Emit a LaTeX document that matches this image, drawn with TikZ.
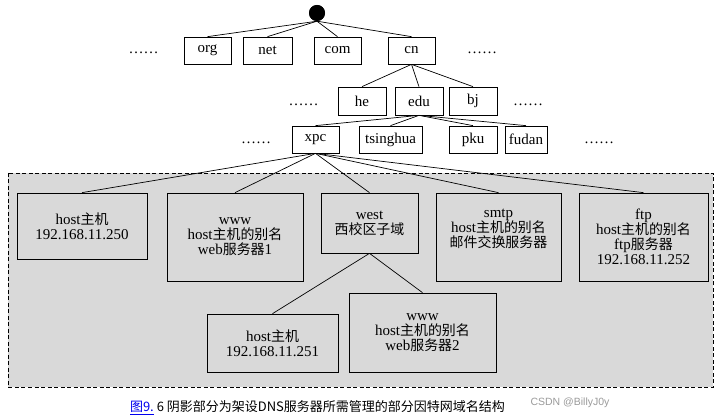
\documentclass[tikz,border=0pt]{standalone}
\usepackage{fontspec}
\setmainfont{Liberation Serif}
\newfontfamily\cjk[Scale=0.93]{Noto Sans CJK SC}
\newfontfamily\capfont{Noto Sans CJK SC}
\newfontfamily\wmfont{Liberation Sans}
\newcommand\zh[1]{{\cjk #1}}
\definecolor{shade}{HTML}{D9D9D9}
\definecolor{linkblue}{HTML}{0000EE}
\definecolor{wmgray}{HTML}{9A9A9A}
\tikzset{
  tbox/.style={draw=black, line width=0.7pt, fill=white, inner sep=0pt, minimum height=27, font=\fontsize{15}{15}\selectfont},
  gbox/.style={draw=black, line width=0.7pt, inner sep=0pt, align=center, font=\fontsize{15}{15}\selectfont},
  txt/.style={inner sep=0pt, align=center, font=\fontsize{15}{15}\selectfont},
  dots/.style={inner sep=0pt, font=\fontsize{15}{15}\selectfont},
  conn/.style={line width=0.7pt},
}
\begin{document}
\begin{tikzpicture}[x=1pt,y=-1pt]
\useasboundingbox (0,0) rectangle (723,419);
% shaded region
\draw[fill=shade, line width=0.7pt, dash pattern=on 4pt off 2.5pt] (8,173) rectangle (713,387);
% tree nodes
\node[circle, fill=black, minimum size=16, inner sep=0pt] (root) at (317,13) {};
\node[tbox, minimum width=47] (org) at (207.5,50.5) {org};
\node[tbox, minimum width=49] (net) at (267.5,50.5) {net};
\node[tbox, minimum width=47] (com) at (337.5,50.5) {com};
\node[tbox, minimum width=47] (cn) at (411.5,50.5) {cn};
\node[tbox, minimum width=48, minimum height=28] (he) at (362,101) {he};
\node[tbox, minimum width=48, minimum height=28] (edu) at (419,101) {edu};
\node[tbox, minimum width=48, minimum height=28] (bj) at (473,101) {bj};
\node[tbox, minimum width=47] (xpc) at (315.5,139.5) {xpc};
\node[tbox, minimum width=63] (tsinghua) at (390.5,139.5) {tsinghua};
\node[tbox, minimum width=48] (pku) at (473,139.5) {pku};
\node[tbox, minimum width=42] (fudan) at (526,139.5) {fudan};
% dots
\node[dots] (d1) at (143.5,53) {……};
\node[dots] (d2) at (482,53) {……};
\node[dots] (d3) at (303.5,105) {……};
\node[dots] (d4) at (528,105) {……};
\node[dots] (d5) at (256,143) {……};
\node[dots] (d6) at (599,143) {……};
% boxes in region
\node[gbox, minimum width=130, minimum height=66] (h250) at (82,226) {host\zh{主机}\\192.168.11.250};
\node[gbox, minimum width=136, minimum height=88] (www1) at (235,237) {www\\host\zh{主机的别名}\\web\zh{服务器}1};
\node[gbox, minimum width=97, minimum height=60] (west) at (369.5,223) {west\\\zh{西校区子域}};
\node[gbox, minimum width=125, minimum height=88] (smtp) at (498.5,237) {};
\node[txt] (smtpt) at ([yshift=8pt]smtp.center) {smtp\\host\zh{主机的别名}\\\zh{邮件交换服务器}};
\node[gbox, minimum width=129, minimum height=88] (ftp) at (643.5,237) {ftp\\host\zh{主机的别名}\\ftp\zh{服务器}\\192.168.11.252};
\node[gbox, minimum width=131, minimum height=58] (h251) at (272.5,343) {host\zh{主机}\\192.168.11.251};
\node[gbox, minimum width=147, minimum height=79] (www2) at (422.5,332.5) {www\\host\zh{主机的别名}\\web\zh{服务器}2};
% connectors
\foreach \c in {org,net,com,cn} \draw[conn] (root.south) -- (\c.north);
\foreach \c in {he,edu,bj} \draw[conn] (cn.south) -- (\c.north);
\foreach \c in {xpc,tsinghua,pku,fudan} \draw[conn] (edu.south) -- (\c.north);
\foreach \c in {h250,www1,west,smtp,ftp} \draw[conn] (xpc.south) -- (\c.north);
\foreach \c in {h251,www2} \draw[conn] (west.south) -- (\c.north);
\node[circle, fill=black, minimum size=16, inner sep=0pt] at (root) {};
% caption
\node[inner sep=0pt, font=\capfont\fontsize{13}{13}\selectfont] (cap) at (317.5,408) {{\color{linkblue}\underline{图9.}} 6 阴影部分为架设DNS服务器所需管理的部分因特网域名结构};
\node[inner sep=0pt, text=wmgray, font=\wmfont\fontsize{10.5}{10.5}\selectfont] (wm) at (570,403) {CSDN @BillyJ0y};
\end{tikzpicture}
\end{document}
